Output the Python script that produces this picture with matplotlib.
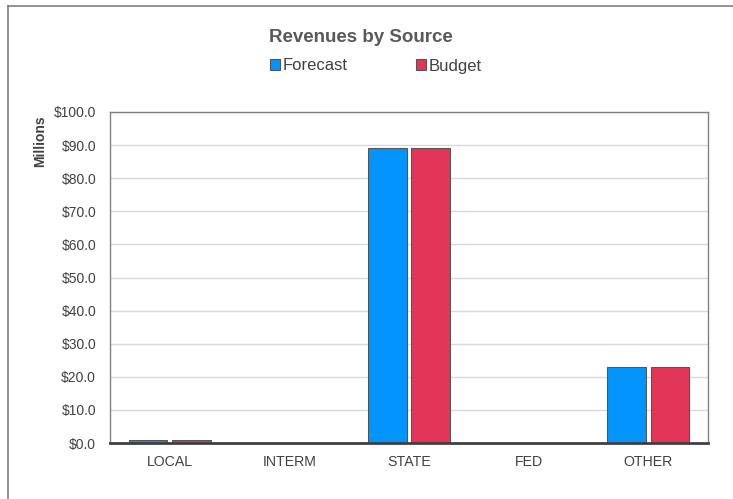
import matplotlib
matplotlib.use("Agg")
import matplotlib.pyplot as plt
import numpy as np
from matplotlib.lines import Line2D
from matplotlib.patches import Patch

categories = ["LOCAL", "INTERM", "STATE", "FED", "OTHER"]
forecast = [1.0, 0.0, 89.1, 0.0, 23.0]
budget = [1.0, 0.0, 89.1, 0.0, 23.0]
yticks = [0, 10, 20, 30, 40, 50, 60, 70, 80, 90, 100]

plt.rcParams['font.family'] = ['Liberation Sans', 'DejaVu Sans']

W, H = 733, 499
fig = plt.figure(figsize=(W/100, H/100), dpi=100)
ax = fig.add_axes([110/W, 1-443/H, 598/W, 331/H])

x = np.arange(len(categories))
bw = 0.325
off = 0.1825
c_blue = "#0394FC"
c_red = "#E23558"
edge = "#555555"
ax.bar(x - off, forecast, bw, color=c_blue, edgecolor=edge, linewidth=0.75, zorder=3)
ax.bar(x + off, budget, bw, color=c_red, edgecolor=edge, linewidth=0.75, zorder=3)

ax.set_xlim(-0.5, len(categories) - 0.5)
ax.set_ylim(0, 100)
ax.set_yticks(yticks)
ax.set_yticklabels([f"${v:.1f}" for v in yticks], fontsize=10, color="#404040")
ax.set_xticks(x)
ax.set_xticklabels(categories, fontsize=10.2, color="#404040")
ax.tick_params(axis='both', length=0)
ax.tick_params(axis='y', pad=10)
ax.tick_params(axis='x', pad=8.5)
ax.yaxis.grid(True, color="#D9D9D9", linewidth=1.0, zorder=0)
ax.set_axisbelow(True)
for s in ["left", "top", "right"]:
    ax.spines[s].set_color("#808080")
    ax.spines[s].set_linewidth(1.0)
ax.spines["bottom"].set_color("#404040")
ax.spines["bottom"].set_linewidth(2.0)
ax.spines["bottom"].set_zorder(4)

fig.text(40/W, 1-141/H, "Millions", rotation=90, fontsize=10, fontweight="bold",
         color="#404040", ha="center", va="center")

fig.text(361/W, 1-37/H, "Revenues by Source", fontsize=13.5, fontweight="bold",
         color="#595959", ha="center", va="center")

handles = [Patch(facecolor=c_blue, edgecolor=edge, linewidth=0.8),
           Patch(facecolor=c_red, edgecolor=edge, linewidth=0.8)]
fig.legend(handles, ["Forecast", "Budget"], loc="center", bbox_to_anchor=(376/W, 1-66/H),
           ncol=2, frameon=False, fontsize=12, handlelength=0.6, handleheight=0.6,
           handletextpad=0.15, columnspacing=4.1, labelcolor="#404040")

# outer chart border (left and top visible)
fig.add_artist(Line2D([8/W, 8/W], [0, 1-6/H], transform=fig.transFigure, color="#808080", linewidth=1.2))
fig.add_artist(Line2D([8/W, 1], [1-6/H, 1-6/H], transform=fig.transFigure, color="#808080", linewidth=1.2))

fig.savefig("out.png", dpi=100)
